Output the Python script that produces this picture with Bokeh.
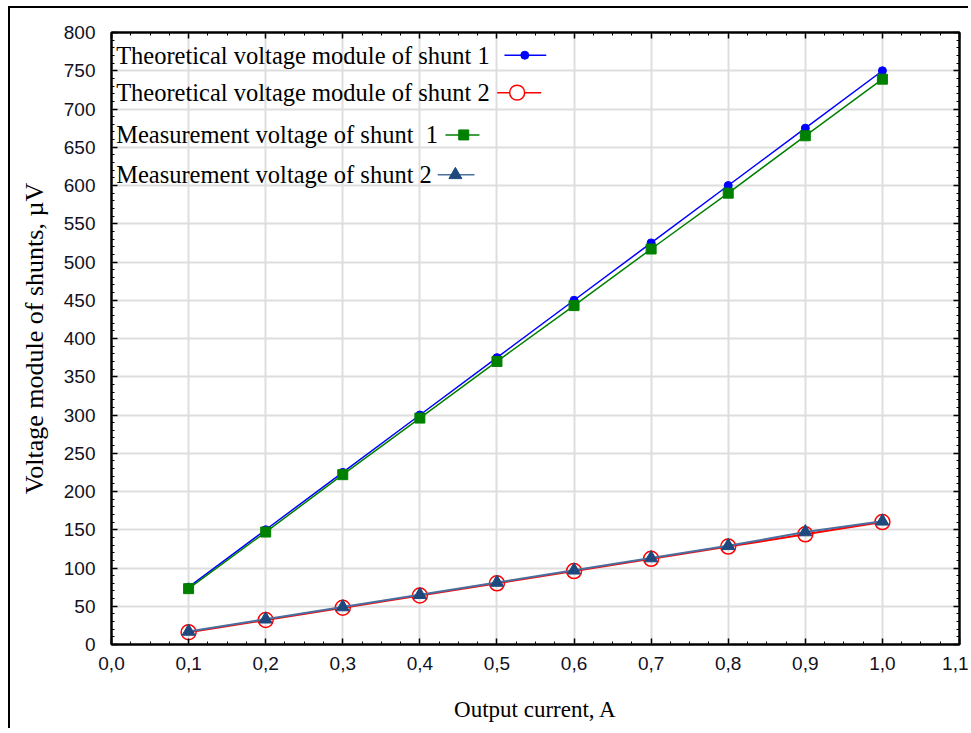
from bokeh.plotting import figure
from bokeh.models import Range1d, LinearAxis, SingleIntervalTicker, CustomJSTickFormatter
from bokeh.core.properties import value
from bokeh.embed import file_html
from bokeh.resources import INLINE

# ---- data ----
current = [0.1, 0.2, 0.3, 0.4, 0.5, 0.6, 0.7, 0.8, 0.9, 1.0]
theor_shunt1 = [75, 150, 225, 300, 375, 450, 525, 600, 675, 750]
theor_shunt2 = [16, 32, 48, 64, 80, 96, 112, 128, 144, 160]
meas_shunt1 = [73, 147, 222, 296, 370, 443, 517, 590, 665, 739]
meas_shunt2 = [17, 33, 49, 65, 81, 97, 113, 129, 147, 161]
series_labels = [
    "Theoretical voltage module of shunt 1",
    "Theoretical voltage module of shunt 2",
    "Measurement voltage of shunt \u00a01",
    "Measurement voltage of shunt 2",
]
x_title = "Output current, A"
y_title = "Voltage module of shunts, \u00b5V"
x_limits = (0.0, 1.1)
y_limits = (0, 800)
x_step = 0.1
y_step = 50

SERIF = "Liberation Serif"
SANS = "Liberation Sans"

p = figure(
    width=960, height=722,
    x_range=Range1d(*x_limits), y_range=Range1d(*y_limits),
    output_backend="svg", toolbar_location=None,
    min_border_left=101, min_border_right=11, min_border_top=24, min_border_bottom=86,
    background_fill_color="white", border_fill_color="white",
    outline_line_color="black", outline_line_width=2,
)
p.styles = {
    "margin-left": "8px", "margin-top": "6px",
    "border-left": "2px solid black", "border-top": "2px solid black",
}

xt = SingleIntervalTicker(interval=x_step, num_minor_ticks=4)
yt = SingleIntervalTicker(interval=y_step, num_minor_ticks=5)

def style_axis(ax, ticker, show_labels):
    ax.ticker = ticker
    ax.axis_line_color = "black"
    ax.axis_line_width = 2
    ax.major_tick_in = 6
    ax.major_tick_out = 0
    ax.minor_tick_in = 3
    ax.minor_tick_out = 0
    ax.major_tick_line_color = "black"
    ax.minor_tick_line_color = "black"
    ax.major_tick_line_width = 1.5
    if show_labels:
        ax.major_label_text_font = SANS
        ax.major_label_text_font_size = "19px"
        ax.major_label_text_color = "#111122"
        ax.axis_label_text_font = SERIF
        ax.axis_label_text_font_style = "normal"
        ax.axis_label_text_color = "black"
    else:
        ax.formatter = CustomJSTickFormatter(code="return '';")
        ax.major_label_text_font_size = "1px"
        ax.major_label_standoff = 0

xa = p.xaxis[0]
ya = p.yaxis[0]
style_axis(xa, xt, True)
style_axis(ya, yt, True)
xa.formatter = CustomJSTickFormatter(code="return tick.toFixed(1).replace('.', ',');")
xa.major_label_standoff = 12
xa.axis_label = x_title
xa.axis_label_text_font_size = "23px"
xa.axis_label_standoff = 24
ya.major_label_standoff = 16
ya.axis_label = y_title
ya.axis_label_text_font_size = "26px"
ya.axis_label_standoff = 12

top = LinearAxis()
right = LinearAxis()
style_axis(top, SingleIntervalTicker(interval=x_step, num_minor_ticks=4), False)
style_axis(right, SingleIntervalTicker(interval=y_step, num_minor_ticks=5), False)
p.add_layout(top, "above")
p.add_layout(right, "right")

p.xgrid.ticker = xt
p.ygrid.ticker = yt
for g in (p.xgrid, p.ygrid):
    g.grid_line_color = "#dedede"
    g.grid_line_width = 2

# ---- series ----
c_t1, c_t2, c_m1, c_m2, c_m2m = "#0000ff", "#ff0000", "#008000", "#4a6e9e", "#1f497d"

p.line(current, theor_shunt1, line_color=c_t1, line_width=1.5)
p.scatter(current, theor_shunt1, marker="circle", size=8, fill_color=c_t1, line_color=c_t1)

p.line(current, theor_shunt2, line_color=c_t2, line_width=2)
p.scatter(current, theor_shunt2, marker="circle", size=15, fill_color=None, line_color=c_t2, line_width=1.5)

p.line(current, meas_shunt1, line_color=c_m1, line_width=1.5)
p.scatter(current, meas_shunt1, marker="square", size=10, fill_color=c_m1, line_color=c_m1)

p.line(current, meas_shunt2, line_color=c_m2, line_width=2)
p.scatter(current, meas_shunt2, marker="triangle", size=13, fill_color=c_m2m, line_color=c_m2m)

# ---- legend (label first, then sample), positioned in the top-left corner ----
leg_x = 0.006
leg_y = [770.3, 721.4, 666.1, 613.9]
seg_x0 = [0.5097, 0.5003, 0.4332, 0.4232]
seg_x1 = [0.5639, 0.5574, 0.4773, 0.4708]
mark_x = [0.5361, 0.5262, 0.4569, 0.4461]

p.text(x=[leg_x] * 4, y=leg_y, text=series_labels,
       text_font=value(SERIF), text_font_size="24.5px", text_baseline="middle",
       text_color="black")

seg_colors = [c_t1, c_t2, c_m1, c_m2]
p.segment(x0=seg_x0, y0=leg_y, x1=seg_x1, y1=leg_y, line_color=seg_colors, line_width=1.5)
p.scatter([mark_x[0]], [leg_y[0]], marker="circle", size=8, fill_color=c_t1, line_color=c_t1)
p.scatter([mark_x[1]], [leg_y[1]], marker="circle", size=15, fill_color="white", line_color=c_t2, line_width=1.5)
p.scatter([mark_x[2]], [leg_y[2]], marker="square", size=10, fill_color=c_m1, line_color=c_m1)
p.scatter([mark_x[3]], [leg_y[3]], marker="triangle", size=13, fill_color=c_m2m, line_color=c_m2m)

open("out.html", "w").write(file_html(p, INLINE))
